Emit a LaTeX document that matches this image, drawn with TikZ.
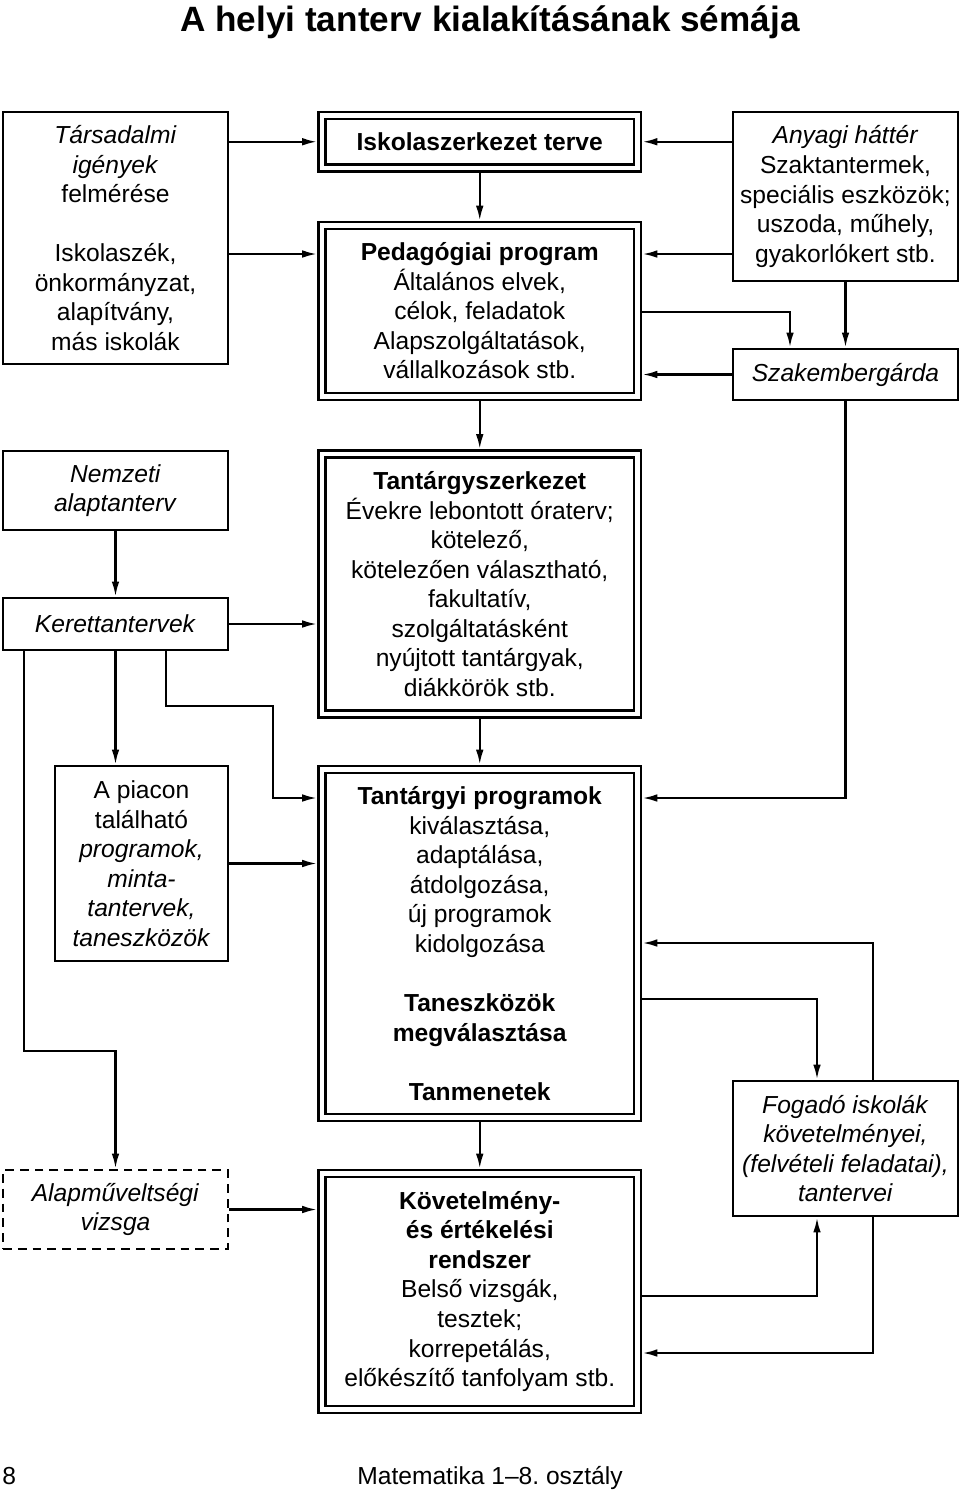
\documentclass[tikz,border=0pt]{standalone}
\usepackage{fontspec}
\setmainfont{Liberation Sans}
\usetikzlibrary{arrows.meta,positioning,calc}
\frenchspacing
\newcommand{\pxu}{0.025cm}
\tikzset{
  boxtext/.style={font=\fontsize{17.5}{21}\selectfont,align=center,inner sep=0pt},
  plainbox/.style 2 args={draw,line width=0.06cm,boxtext,
    minimum width=#1*\pxu,minimum height=#2*\pxu},
  dashbox/.style 2 args={plainbox={#1}{#2},dash pattern=on 0.22cm off 0.15cm},
  dblbox/.style={draw,line width=0.06cm,double,double distance=0.11cm,boxtext,
    outer sep=0.115cm,minimum width=315.5*\pxu,minimum height=#1*\pxu},
  flow/.style={-{Latex[length=0.38cm,width=0.19cm]},line width=0.06cm},
}
\begin{document}
\begin{tikzpicture}[x=0.025cm,y=-0.025cm]
\useasboundingbox (0,0) rectangle (960,1502);
% title and footer
\node[anchor=base,font=\fontsize{25}{30}\selectfont\bfseries](title)
  at(490,31){A helyi tanterv kialakításának sémája};
\node[anchor=base west,inner sep=0pt,font=\fontsize{17.5}{21}\selectfont](pagenum)
  at(2,1484){8};
\node[anchor=base,inner sep=0pt,font=\fontsize{17.5}{21}\selectfont](footer)
  at(490,1484){Matematika 1–8. osztály};
% left column
\node[plainbox={225}{252}](tars) at(115.5,238)
  {\textit{Társadalmi}\\\textit{igények}\\felmérése\\[21pt]Iskolaszék,\\önkormányzat,\\alapítvány,\\más iskolák};
\node[plainbox={225}{79}](nemzeti) at(115.5,490.5)
  {\textit{Nemzeti}\\\textit{alaptanterv}};
\node[plainbox={225}{52}](keret) at(115.5,624){\textit{Kerettantervek}};
\node[plainbox={173}{195}](piacon) at(141.5,863.5)
  {A piacon\\található\\\textit{programok,}\\\textit{minta-}\\\textit{tantervek,}\\\textit{taneszközök}};
\node[dashbox={225}{79}](alap) at(115.5,1209.5)
  {\textit{Alapműveltségi}\\\textit{vizsga}};
% middle column
\node[dblbox=52.5](isk) at(479.75,141.75){\textbf{Iskolaszerkezet terve}};
\node[dblbox=171](ped) at(479.75,311)
  {\textbf{Pedagógiai program}\\Általános elvek,\\célok, feladatok\\Alapszolgáltatások,\\vállalkozások stb.};
\node[dblbox=260](tsz) at(479.75,584)
  {\textbf{Tantárgyszerkezet}\\Évekre lebontott óraterv;\\kötelező,\\kötelezően választható,\\fakultatív,\\szolgáltatásként\\nyújtott tantárgyak,\\diákkörök stb.};
\node[dblbox=348](tp) at(479.75,943.5)
  {\textbf{Tantárgyi programok}\\kiválasztása,\\adaptálása,\\átdolgozása,\\új programok\\kidolgozása\\[21pt]\textbf{Taneszközök}\\\textbf{megválasztása}\\[21pt]\textbf{Tanmenetek}};
\node[dblbox=236](kov) at(479.75,1291.5)
  {\textbf{Követelmény-}\\\textbf{és értékelési}\\\textbf{rendszer}\\Belső vizsgák,\\tesztek;\\korrepetálás,\\előkészítő tanfolyam stb.};
% right column
\node[plainbox={225}{169}](anyagi) at(845.5,196.5)
  {\textit{Anyagi háttér}\\Szaktantermek,\\speciális eszközök;\\uszoda, műhely,\\gyakorlókert stb.};
\node[plainbox={225}{51}](szak) at(845.5,374.5){\textit{Szakembergárda}};
\node[plainbox={225}{135}](fogado) at(845.5,1148.5)
  {\textit{Fogadó iskolák}\\\textit{követelményei,}\\\textit{(felvételi feladatai),}\\\textit{tantervei}};
% connectors
\draw[flow](tars.east |- isk.west)--(isk.west);
\draw[flow](tars.east |- 0,254)--(ped.west |- 0,254);
\draw[flow](anyagi.west |- isk.east)--(isk.east);
\draw[flow](anyagi.west |- 0,254)--(ped.east |- 0,254);
\draw[flow](isk.south)--(ped.north);
\draw[flow](ped.east |- 0,312)-|(szak.north -| 790,0);
\draw[flow](anyagi.south)--(szak.north);
\draw[flow](szak.west)--(szak.west -| ped.east);
\draw[flow](ped.south)--(tsz.north);
\draw[flow](szak.south)|-(tp.east |- 0,798);
\draw[flow](nemzeti.south)--(keret.north);
\draw[flow](keret.east)--(keret.east -| tsz.west);
\draw[flow](keret.south)--(piacon.north -| keret.south);
\draw[flow](keret.south -| 24,0)|-(alap.north |- 0,1051)--(alap.north);
\draw[flow](keret.south -| 166,0)|-(273,706)|-(tp.west |- 0,798);
\draw[flow](piacon.east)--(piacon.east -| tp.west);
\draw[flow](tsz.south)--(tp.north);
\draw[flow](tp.east |- 0,999)-|(fogado.north -| 817,0);
\draw[flow](fogado.north -| 873,0)|-(tp.east |- 0,943);
\draw[flow](tp.south)--(kov.north);
\draw[flow](alap.east)--(alap.east -| kov.west);
\draw[flow](kov.east |- 0,1296)-|(fogado.south -| 817,0);
\draw[flow](fogado.south -| 873,0)|-(kov.east |- 0,1353);
\end{tikzpicture}
\end{document}
